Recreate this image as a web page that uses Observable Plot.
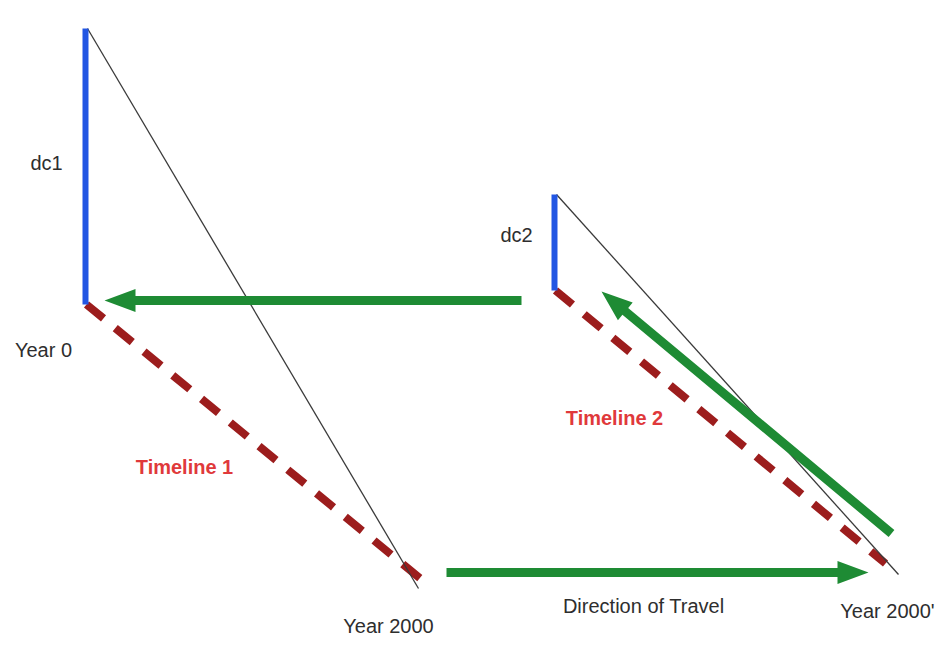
<!DOCTYPE html>
<html>
<head>
<meta charset="utf-8">
<script src="https://cdn.jsdelivr.net/npm/d3@7"></script>
<script src="https://cdn.jsdelivr.net/npm/@observablehq/plot@0.6"></script>
<style>
  html, body { margin: 0; padding: 0; background: #fff; }
  #chart svg { display: block; }
</style>
</head>
<body>
<div id="chart"></div>
<script>
// Diagram coordinates (one unit = one pixel of the 943x645 frame)
// Two timelines: each has a vertical "dc" bar, a dashed timeline and a thin world line
const timelineNames = ["Timeline 1", "Timeline 2"];
const dcX = [85, 554];
const dcTop = [28, 194];
const dcBase = [304, 290];
const timelineEndX = [421, 885];
const timelineEndY = [579, 563];
const worldEndX = [418, 898];
const worldEndY = [588, 574];

// Green arrows: tail -> tip
const arrowTailX = [521, 446, 891];
const arrowTailY = [300, 572, 533];
const arrowTipX = [104, 868, 601];
const arrowTipY = [300, 572, 291];

// Labels
const grayLabels = ["dc1", "Year 0", "dc2", "Year 2000", "Direction of Travel", "Year 2000'"];
const grayLabelX = [46, 43, 516, 388, 643, 887];
const grayLabelY = [163, 350, 235, 626, 606, 611];
const redLabels = ["Timeline 1", "Timeline 2"];
const redLabelX = [184, 614];
const redLabelY = [467, 418];

// ---- build tables ----
const dcSegs = dcX.map((x, i) => ({x1: x, y1: dcTop[i], x2: x, y2: dcBase[i]}));
const tlSegs = dcX.map((x, i) => ({x1: x + 1, y1: dcBase[i], x2: timelineEndX[i], y2: timelineEndY[i]}));
const worldSegs = dcX.map((x, i) => ({x1: x + 2, y1: dcTop[i], x2: worldEndX[i], y2: worldEndY[i]}));

const shaftHalf = 4.5, headHalf = 11.5, headLen = 31;
const arrowPolys = [];
arrowTailX.forEach((tx, i) => {
  const ty = arrowTailY[i], px = arrowTipX[i], py = arrowTipY[i];
  const dx = px - tx, dy = py - ty, L = Math.hypot(dx, dy);
  const ux = dx / L, uy = dy / L, nx = -uy, ny = ux;
  const bx = px - ux * headLen, by = py - uy * headLen;
  const pts = [
    [tx + nx * shaftHalf, ty + ny * shaftHalf],
    [bx + nx * shaftHalf, by + ny * shaftHalf],
    [bx + nx * headHalf, by + ny * headHalf],
    [px, py],
    [bx - nx * headHalf, by - ny * headHalf],
    [bx - nx * shaftHalf, by - ny * shaftHalf],
    [tx - nx * shaftHalf, ty - ny * shaftHalf]
  ];
  pts.forEach(([x, y]) => arrowPolys.push({arrow: i, x, y}));
});

const grayTable = grayLabels.map((t, i) => ({t, x: grayLabelX[i], y: grayLabelY[i]}));
const redTable = redLabels.map((t, i) => ({t, x: redLabelX[i], y: redLabelY[i]}));

const font = "'Liberation Sans', Arial, Helvetica, sans-serif";

const chart = Plot.plot({
  width: 943,
  height: 645,
  margin: 0,
  x: {domain: [0, 943], range: [0, 943], axis: null},
  y: {domain: [0, 645], range: [0, 645], axis: null},
  style: {background: "#fff", fontFamily: font},
  marks: [
    Plot.link(tlSegs, {x1: "x1", y1: "y1", x2: "x2", y2: "y2",
      stroke: "#9c1d1d", strokeWidth: 8, strokeDasharray: "22,15.2", strokeLinecap: "butt"}),
    Plot.link(worldSegs, {x1: "x1", y1: "y1", x2: "x2", y2: "y2",
      stroke: "#3a3a3a", strokeWidth: 1.3}),
    Plot.link(dcSegs, {x1: "x1", y1: "y1", x2: "x2", y2: "y2",
      stroke: "#2256e3", strokeWidth: 6, strokeLinecap: "butt"}),
    Plot.line(arrowPolys, {x: "x", y: "y", z: "arrow", fill: "#1e8b34", stroke: "none", curve: "linear"}),
    Plot.text(grayTable, {x: "x", y: "y", text: "t", fill: "#2e2e2e", fontSize: 20, fontFamily: font}),
    Plot.text(redTable, {x: "x", y: "y", text: "t", fill: "#e0393b", fontSize: 20, fontWeight: "bold", fontFamily: font})
  ]
});
document.getElementById("chart").appendChild(chart);
</script>
</body>
</html>
